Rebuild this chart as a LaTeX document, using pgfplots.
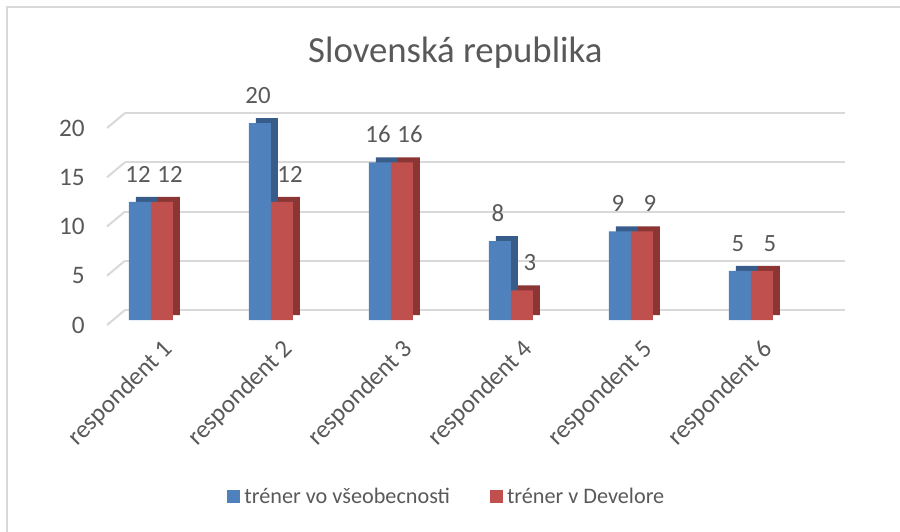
\documentclass[border=0pt]{standalone}
\usepackage{pgfplots}
\pgfplotsset{compat=1.18}
\usepackage{pgfplotstable}
\usepackage{fontspec}
\setmainfont{Carlito}

\definecolor{blueF}{HTML}{4F81BD}
\definecolor{blueD}{HTML}{385D8A}
\definecolor{redF}{HTML}{C0504D}
\definecolor{redD}{HTML}{8B3634}
\definecolor{textgray}{HTML}{595959}
\definecolor{gridgray}{HTML}{D9D9D9}

\pgfplotstableread{
x a b
0 12 12
1 20 12
2 16 16
3 8 3
4 9 9
5 5 5
}\data

\begin{document}
\begin{tikzpicture}
\path[use as bounding box] (-45.5pt,-105.5pt) rectangle (404.5pt,160pt);
\draw[gridgray, line width=1pt] (-42pt,-130pt) -- (-42pt,156.5pt) -- (420pt,156.5pt);
\begin{axis}[
    at={(0,0)}, anchor=south west,
    scale only axis,
    width=360pt, height=98.5pt,
    xmin=-0.5, xmax=5.5,
    ymin=0, ymax=20,
    ybar, bar width=11pt,
    axis line style={draw=none},
    major tick length=0pt,
    ytick={0,5,10,15,20},
    xtick={0,1,2,3,4,5},
    xticklabels={respondent 1,respondent 2,respondent 3,respondent 4,respondent 5,respondent 6},
    /pgf/number format/assume math mode=true,
    ticklabel style={font=\fontsize{12.6}{14}\selectfont, text=textgray},
    yticklabel style={inner sep=0pt, anchor=east, xshift=-3pt, yshift=-2.5pt},
    xticklabel style={inner sep=0pt, xshift=9pt, yshift=-12.5pt, rotate=45, anchor=east},
    ymajorgrids,
    major grid style={draw=gridgray, line width=1pt, xshift=17pt, yshift=5pt},
    title={Slovenská republika},
    title style={at={(0.506,1.298)}, anchor=center, font=\fontsize{18.4}{22}\selectfont, text=textgray},
    clip=false,
    legend columns=2,
    legend style={at={(0.4956,-0.898)}, anchor=center, draw=none, fill=none,
        font=\fontsize{11.1}{13}\selectfont, text=textgray,
        /tikz/every even column/.append style={column sep=18pt}},
    legend image code/.code={\fill[#1] (0pt,-3.25pt) rectangle (6.5pt,3.25pt);},
    nodes near coords style={font=\fontsize{12.4}{14}\selectfont, text=textgray, anchor=south, inner sep=0pt, yshift=9.5pt},
]
% slanted ends of the back grid lines
\pgfplotsinvokeforeach{0,5,10,15,20}{
    \draw[gridgray, line width=1pt] ([xshift=8pt,yshift=-2.5pt]axis cs:-0.5,#1) -- ([xshift=17pt,yshift=5pt]axis cs:-0.5,#1);
}

% depth faces, then front faces
\addplot[fill=blueD, draw=none, bar shift=-5.5pt, xshift=3.5pt, yshift=2.5pt, forget plot] table[x=x, y=a] {\data};
\addplot[fill=blueF, draw=none, bar shift=-5.5pt, nodes near coords, nodes near coords style={xshift=-1pt}] table[x=x, y=a] {\data};
\addlegendentry{tréner vo všeobecnosti}
\addplot[fill=redD, draw=none, bar shift=5.5pt, xshift=3.5pt, yshift=2.5pt, forget plot] table[x=x, y=b] {\data};
\addplot[fill=redF, draw=none, bar shift=5.5pt, nodes near coords, nodes near coords style={xshift=4pt}] table[x=x, y=b] {\data};
\addlegendentry{tréner v Develore}
\end{axis}
\end{tikzpicture}
\end{document}
